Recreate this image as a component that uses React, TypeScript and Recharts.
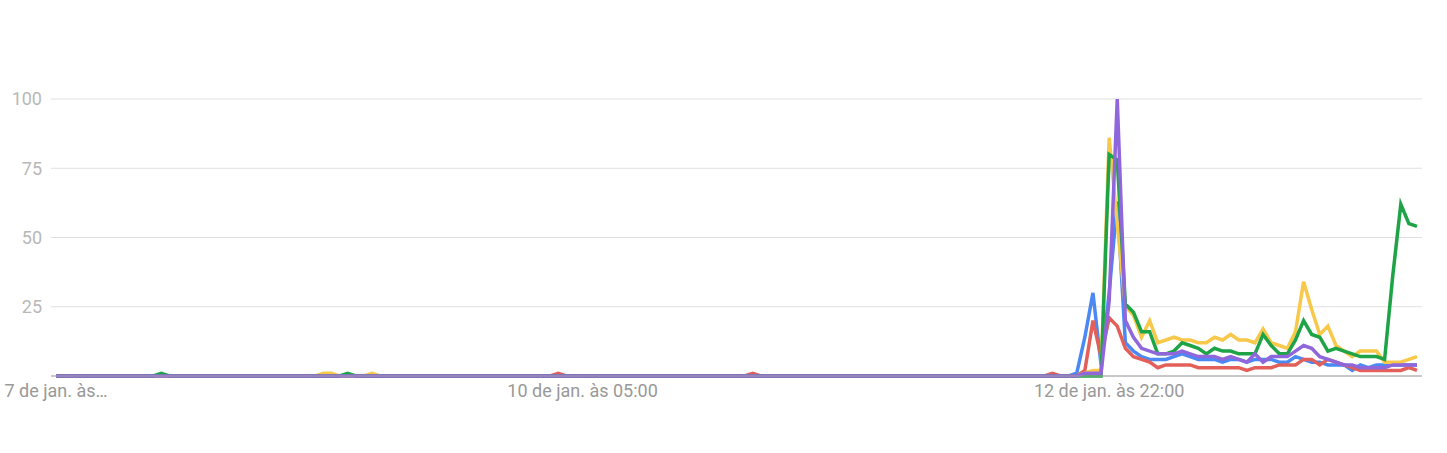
import React from "react";
import { LineChart, Line, XAxis, YAxis, CartesianGrid } from "recharts";

// hourly points, 7 jan 12:00 -> 14 jan 12:00 (169 steps)
const tickIndex = [0, 65, 130];
const tickLabels = ["7 de jan. às…", "10 de jan. às 05:00", "12 de jan. às 22:00"];
const yTicks = [0, 25, 50, 75, 100];

const blue = [
  0, 0, 0, 0, 0, 0, 0, 0, 0, 0, 0, 0, 0, 0, 0, 0, 0, 0, 0, 0,
  0, 0, 0, 0, 0, 0, 0, 0, 0, 0, 0, 0, 0, 0, 0, 0, 0, 0, 0, 0,
  0, 0, 0, 0, 0, 0, 0, 0, 0, 0, 0, 0, 0, 0, 0, 0, 0, 0, 0, 0,
  0, 0, 0, 0, 0, 0, 0, 0, 0, 0, 0, 0, 0, 0, 0, 0, 0, 0, 0, 0,
  0, 0, 0, 0, 0, 0, 0, 0, 0, 0, 0, 0, 0, 0, 0, 0, 0, 0, 0, 0,
  0, 0, 0, 0, 0, 0, 0, 0, 0, 0, 0, 0, 0, 0, 0, 0, 0, 0, 0, 0,
  0, 0, 0, 0, 0, 0, 1, 14, 30, 4, 30, 63, 12, 9, 7, 6, 6, 6, 7, 8,
  7, 6, 6, 6, 5, 6, 6, 5, 6, 6, 6, 5, 5, 7, 6, 5, 5, 4, 4, 4,
  2, 4, 3, 4, 4, 4, 4, 4, 4,
];

const red = [
  0, 0, 0, 0, 0, 0, 0, 0, 0, 0, 0, 0, 0, 0, 0, 0, 0, 0, 0, 0,
  0, 0, 0, 0, 0, 0, 0, 0, 0, 0, 0, 0, 0, 0, 0, 0, 0, 0, 0, 0,
  0, 0, 0, 0, 0, 0, 0, 0, 0, 0, 0, 0, 0, 0, 0, 0, 0, 0, 0, 0,
  0, 0, 1, 0, 0, 0, 0, 0, 0, 0, 0, 0, 0, 0, 0, 0, 0, 0, 0, 0,
  0, 0, 0, 0, 0, 0, 1, 0, 0, 0, 0, 0, 0, 0, 0, 0, 0, 0, 0, 0,
  0, 0, 0, 0, 0, 0, 0, 0, 0, 0, 0, 0, 0, 0, 0, 0, 0, 0, 0, 0,
  0, 0, 0, 1, 0, 0, 0, 2, 20, 7, 21, 18, 10, 7, 6, 5, 3, 4, 4, 4,
  4, 3, 3, 3, 3, 3, 3, 2, 3, 3, 3, 4, 4, 4, 6, 6, 4, 6, 5, 4,
  3, 2, 2, 2, 2, 2, 2, 3, 2,
];

const yellow = [
  0, 0, 0, 0, 0, 0, 0, 0, 0, 0, 0, 0, 0, 0, 0, 0, 0, 0, 0, 0,
  0, 0, 0, 0, 0, 0, 0, 0, 0, 0, 0, 0, 0, 1, 1, 0, 0, 0, 0, 1,
  0, 0, 0, 0, 0, 0, 0, 0, 0, 0, 0, 0, 0, 0, 0, 0, 0, 0, 0, 0,
  0, 0, 0, 0, 0, 0, 0, 0, 0, 0, 0, 0, 0, 0, 0, 0, 0, 0, 0, 0,
  0, 0, 0, 0, 0, 0, 0, 0, 0, 0, 0, 0, 0, 0, 0, 0, 0, 0, 0, 0,
  0, 0, 0, 0, 0, 0, 0, 0, 0, 0, 0, 0, 0, 0, 0, 0, 0, 0, 0, 0,
  0, 0, 0, 0, 0, 0, 0, 1, 2, 2, 86, 55, 25, 22, 14, 20, 12, 13, 14, 13,
  13, 12, 12, 14, 13, 15, 13, 13, 12, 17, 12, 11, 10, 16, 34, 24, 15, 18, 11, 9,
  7, 9, 9, 9, 5, 5, 5, 6, 7,
];

const green = [
  0, 0, 0, 0, 0, 0, 0, 0, 0, 0, 0, 0, 0, 1, 0, 0, 0, 0, 0, 0,
  0, 0, 0, 0, 0, 0, 0, 0, 0, 0, 0, 0, 0, 0, 0, 0, 1, 0, 0, 0,
  0, 0, 0, 0, 0, 0, 0, 0, 0, 0, 0, 0, 0, 0, 0, 0, 0, 0, 0, 0,
  0, 0, 0, 0, 0, 0, 0, 0, 0, 0, 0, 0, 0, 0, 0, 0, 0, 0, 0, 0,
  0, 0, 0, 0, 0, 0, 0, 0, 0, 0, 0, 0, 0, 0, 0, 0, 0, 0, 0, 0,
  0, 0, 0, 0, 0, 0, 0, 0, 0, 0, 0, 0, 0, 0, 0, 0, 0, 0, 0, 0,
  0, 0, 0, 0, 0, 0, 0, 0, 0, 0, 80, 78, 26, 23, 16, 16, 8, 8, 9, 12,
  11, 10, 8, 10, 9, 9, 8, 8, 8, 15, 11, 8, 8, 13, 20, 15, 14, 9, 10, 9,
  8, 7, 7, 7, 6, 36, 62, 55, 54,
];

const purple = [
  0, 0, 0, 0, 0, 0, 0, 0, 0, 0, 0, 0, 0, 0, 0, 0, 0, 0, 0, 0,
  0, 0, 0, 0, 0, 0, 0, 0, 0, 0, 0, 0, 0, 0, 0, 0, 0, 0, 0, 0,
  0, 0, 0, 0, 0, 0, 0, 0, 0, 0, 0, 0, 0, 0, 0, 0, 0, 0, 0, 0,
  0, 0, 0, 0, 0, 0, 0, 0, 0, 0, 0, 0, 0, 0, 0, 0, 0, 0, 0, 0,
  0, 0, 0, 0, 0, 0, 0, 0, 0, 0, 0, 0, 0, 0, 0, 0, 0, 0, 0, 0,
  0, 0, 0, 0, 0, 0, 0, 0, 0, 0, 0, 0, 0, 0, 0, 0, 0, 0, 0, 0,
  0, 0, 0, 0, 0, 0, 0, 1, 1, 1, 27, 100, 20, 14, 10, 9, 8, 8, 8, 9,
  8, 7, 7, 7, 6, 7, 6, 5, 8, 5, 7, 7, 7, 9, 11, 10, 7, 6, 5, 4,
  4, 3, 3, 3, 3, 4, 4, 4, 4,
];

const series = [
  { key: "blue", color: "#4a89f3" },
  { key: "red", color: "#e3605a" },
  { key: "yellow", color: "#f8c84a" },
  { key: "green", color: "#1ea446" },
  { key: "purple", color: "#8f66dc" },
];

const data = blue.map((_, i) => ({
  i,
  blue: blue[i],
  red: red[i],
  yellow: yellow[i],
  green: green[i],
  purple: purple[i],
}));

const font = "Roboto, sans-serif";

export default function App() {
  return (
    <div style={{ position: "absolute", left: 0, top: 0, width: 1447, height: 453, background: "#fff" }}>
      <LineChart width={1447} height={453} data={data} margin={{ top: 99, right: 25, bottom: 0, left: 0 }}>
        <CartesianGrid vertical={false} stroke="#e0e0e0" strokeWidth={1} />
        <XAxis
          dataKey="i"
          type="number"
          domain={[0, 168]}
          ticks={tickIndex}
          interval={0}
          padding={{ left: 5, right: 5 }}
          height={77}
          tickLine={false}
          tickSize={0}
          tickMargin={8}
          axisLine={{ stroke: "#a0a0a0" }}
          tickFormatter={(v: number) => tickLabels[tickIndex.indexOf(v)] ?? ""}
          tick={{ fontSize: 18, fill: "#999", fontFamily: font }}
        />
        <YAxis
          domain={[0, 100]}
          ticks={yTicks}
          width={51}
          axisLine={false}
          tickLine={false}
          tickSize={0}
          tickMargin={9}
          tickFormatter={(v: number) => (v === 0 ? "" : `${v}`)}
          tick={{ fontSize: 18, fill: "#b8b8b8", fontFamily: font }}
        />
        {series.map((s) => (
          <Line
            key={s.key}
            type="linear"
            dataKey={s.key}
            stroke={s.color}
            strokeWidth={3.5}
            dot={false}
            activeDot={false}
            isAnimationActive={false}
          />
        ))}
      </LineChart>
    </div>
  );
}
